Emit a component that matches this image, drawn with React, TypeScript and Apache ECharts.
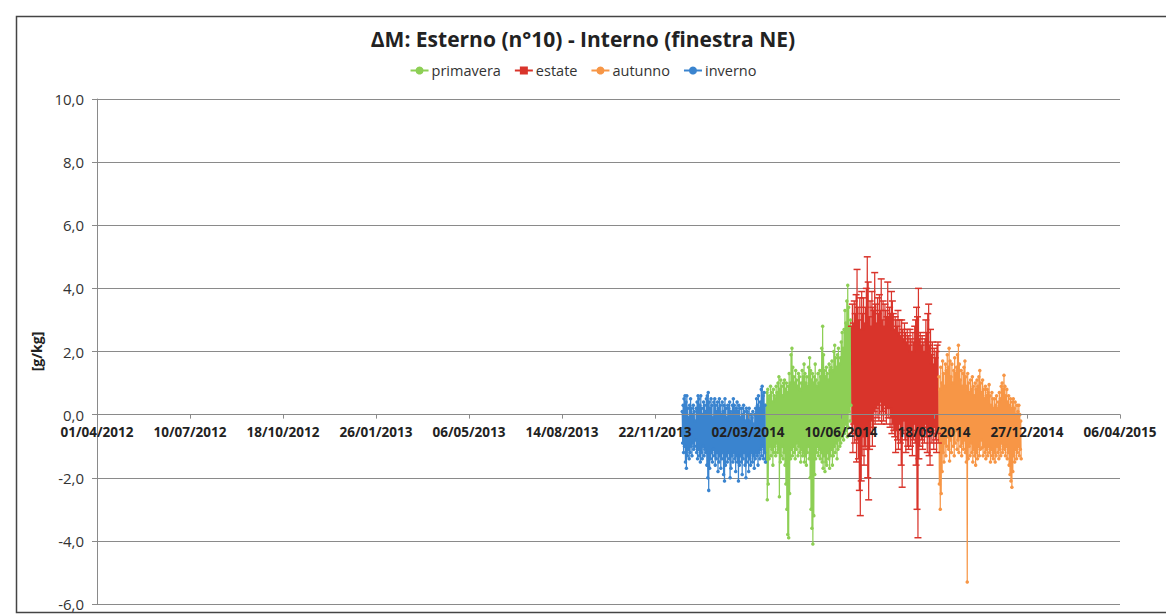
import React, { useEffect, useRef } from "react";
import * as echarts from "echarts";

const TITLE = "ΔM: Esterno (n°10) - Interno (finestra NE)";
const Y_NAME = "[g/kg]";
const BASE_DATE = "01/04/2012";
const X_MIN_DAYS = 0;
const X_MAX_DAYS = 1100;
const X_STEP_DAYS = 100;
const Y_MIN = -6;
const Y_MAX = 10;
const Y_STEP = 2;

const seasonNames = ["primavera", "estate", "autunno", "inverno"];
const seasonColors = ["#8DCF55", "#D9342B", "#F79646", "#3A84CF"];
const seasonStarts = ["21/03/2014", "21/06/2014", "23/09/2014", "21/12/2013"];

// daily maxima / minima [g/kg]
const invernoHigh = [
  0.1, 0.3, 0.5, 0.6, 0.4, 0.6, 0.2, -0.1, 0.3, 0.5,
  0.2, 0.0, 0.3, 0.1, -0.2, 0.2, 0.4, 0.6, 0.5, 0.3,
  0.6, 0.2, 0.0, 0.4, 0.3, 0.1, 0.5, 0.6, 0.7, 0.4,
  0.2, 0.5, 0.3, -0.1, 0.4, 0.5, 0.3, 0.1, 0.4, 0.2,
  0.5, 0.3, 0.0, 0.4, 0.1, 0.3, 0.5, 0.2, -0.1, 0.3,
  0.2, 0.4, 0.1, 0.0, 0.3, 0.5, 0.3, 0.1, 0.2, 0.4,
  0.1, 0.3, 0.2, -0.1, 0.2, 0.0, 0.3, 0.1, -0.2, 0.2,
  0.1, 0.0, 0.2, -0.2, 0.0, -0.1, 0.1, -0.3, 0.0, 0.2,
  0.5, 0.3, 0.6, 0.2, 0.4, 0.8, 0.9, 0.6, 0.7, 0.3,
];
const invernoLow = [
  -0.9, -1.2, -1.0, -1.5, -1.7, -1.3, -1.1, -1.4, -1.2, -1.0,
  -1.3, -0.9, -1.1, -1.0, -0.8, -1.2, -1.4, -1.1, -1.3, -1.5,
  -1.2, -1.4, -1.0, -1.3, -1.1, -1.2, -1.6, -2.0, -2.4, -1.7,
  -1.4, -1.2, -1.5, -1.1, -1.3, -1.6, -1.4, -1.2, -1.8, -1.5,
  -1.3, -1.7, -1.4, -1.2, -1.9, -2.1, -1.6, -1.3, -1.5, -1.2,
  -1.4, -2.0, -1.7, -1.3, -1.5, -1.2, -1.4, -1.8, -1.3, -1.5,
  -2.1, -1.6, -1.3, -1.5, -1.9, -1.4, -1.2, -1.6, -2.0, -1.5,
  -1.3, -1.8, -1.4, -1.6, -1.2, -1.5, -1.3, -1.7, -1.4, -1.2,
  -1.3, -1.6, -1.2, -1.4, -1.1, -1.3, -1.0, -1.4, -1.2, -1.5,
];
const primaveraHigh = [
  0.3, 0.7, 0.8, 0.5, 0.6, 0.9, 0.7, 0.4, 0.8, 0.6,
  0.5, 0.9, 0.7, 1.0, 1.2, 0.8, 1.1, 0.9, 0.6, 1.0,
  1.1, 0.8, 1.0, 0.7, 0.9, 1.3, 1.0, 1.9, 2.1, 1.5,
  1.2, 1.0, 1.4, 1.1, 0.9, 1.3, 1.2, 0.8, 1.0, 1.4,
  1.2, 1.6, 1.3, 1.0, 1.2, 0.9, 1.5, 1.8, 1.4, 1.1,
  1.3, 1.0, 1.2, 1.6, 1.1, 0.9, 1.3, 1.0, 1.4, 1.2,
  2.1, 2.8, 1.9, 1.4, 1.2, 1.5, 1.3, 1.1, 1.6, 1.4,
  1.5, 1.7, 1.4, 2.0, 2.2, 1.8, 1.5, 1.9, 2.1, 1.6,
  1.8, 2.3, 2.6, 2.1, 2.7, 3.3, 2.9, 3.6, 4.1, 3.4, 2.8, 3.0,
];
const primaveraLow = [
  -1.5, -2.7, -2.2, -1.4, -1.0, -1.3, -1.1, -1.6, -1.2, -1.0,
  -1.3, -0.9, -1.2, -1.1, -2.6, -1.5, -1.3, -1.0, -1.4, -1.2,
  -1.6, -2.2, -3.0, -3.8, -3.9, -2.5, -1.4, -1.1, -1.3, -1.0,
  -1.2, -1.4, -1.1, -0.9, -1.3, -1.0, -1.2, -1.5, -1.1, -1.3,
  -1.2, -1.5, -1.3, -1.6, -1.2, -1.0, -1.4, -2.0, -3.0, -3.6,
  -4.1, -3.2, -1.9, -1.4, -1.2, -1.0, -1.3, -1.1, -1.4, -1.2,
  -1.5, -1.7, -1.3, -1.8, -1.5, -1.6, -1.2, -1.4, -1.7, -1.3,
  -1.1, -1.6, -1.3, -1.0, -1.2, -0.9, -1.4, -1.1, -0.8, -1.0,
  -0.9, -0.7, -0.5, -0.8, -0.6, -0.3, -0.5, -0.7, -0.4, 0.1, -0.2, 0.3,
];
const estateHigh = [
  2.8, 3.5, 2.9, 3.6, 3.2, 3.8, 4.6, 3.4, 3.0, 3.7,
  2.7, 3.9, 3.2, 3.7, 2.9, 3.4, 4.0, 5.0, 4.2, 3.1,
  3.6, 2.8, 3.9, 3.4, 3.3, 4.5, 3.5, 2.9, 3.7, 3.2,
  3.8, 3.3, 4.3, 3.0, 3.6, 2.8, 3.5, 3.3, 3.1, 4.2,
  3.1, 3.4, 3.2, 3.9, 3.6, 3.2, 2.7, 3.1, 3.0, 2.8,
  3.3, 2.6, 3.0, 2.5, 3.0, 2.7, 2.4, 2.9, 2.6, 2.3,
  2.7, 2.5, 2.2, 2.7, 2.4, 2.0, 2.6, 2.3, 2.8, 3.0,
  3.4, 3.1, 4.0, 2.4, 2.6, 2.2, 2.5, 2.3, 2.0, 2.4,
  3.0, 2.6, 3.2, 3.5, 2.2, 2.7, 1.9, 2.3, 1.6, 2.1,
  1.8, 2.0, 2.2, 2.3,
];
const estateLow = [
  -0.6, -1.2, -0.3, -0.9, -0.5, -1.5, -0.8, -1.4, -2.4, -3.2,
  -2.1, -1.3, -0.7, -1.6, -1.0, -1.1, -0.4, -2.0, -2.7, -1.1,
  -0.6, -0.2, -1.0, -0.4, 0.1, -0.3, 0.2, -0.1, 0.3, -0.2,
  0.0, 0.4, -0.3, 0.1, -0.2, 0.3, 0.0, -0.3, 0.2, -0.1,
  0.2, -0.4, -0.1, -0.6, -0.3, -0.5, -0.7, -1.2, -0.5, -0.8,
  -1.1, -0.3, -0.9, -1.6, -2.3, -0.6, -0.2, -0.8, -1.2, -0.5,
  -1.0, -1.1, -0.7, -1.0, -0.5, -1.3, -0.8, -0.3, -0.9, -1.6,
  -3.0, -3.9, -1.4, -1.0, -0.4, -0.8, -1.1, -0.5, -0.9, -0.3,
  -0.7, -1.2, -0.4, -1.3, -1.6, -0.5, -0.9, -0.6, -1.1, -0.4,
  -0.8, -1.2, -0.6, -0.9,
];
const autunnoHigh = [
  1.2, 0.8, 1.5, 1.0, 1.7, 1.3, 0.9, 1.6, 1.4, 1.9,
  1.5, 2.1, 1.7, 1.2, 1.6, 1.0, 1.4, 1.8, 1.3, 1.5,
  1.9, 2.2, 1.6, 1.1, 1.4, 0.9, 1.3, 1.5, 1.7, 1.2,
  0.9, 1.3, 1.0, 0.7, 1.1, 0.8, 1.2, 0.9, 0.6, 1.0,
  0.8, 1.1, 0.9, 1.2, 1.4, 1.0, 0.7, 1.1, 0.8, 0.5,
  0.9, 0.6, 0.8, 0.7, 0.95, 0.6, 0.3, 0.7, 0.5, 0.2,
  0.5, 0.3, 0.6, 0.2, 0.4, 0.7, 0.5, 0.9, 1.0, 0.8,
  1.25, 0.9, 0.6, 0.8, 0.4, 0.6, 0.3, 0.5, 0.2, 0.4,
  0.5, 0.2, 0.4, 0.0, 0.3, 0.1, 0.3, 0.0, -0.2,
];
const autunnoLow = [
  -2.2, -3.0, -2.5, -1.8, -1.2, -1.5, -0.9, -1.3, -1.0, -0.7,
  -1.1, -1.47, -0.8, -1.2, -0.6, -1.0, -1.3, -0.9, -0.5, -1.1,
  -0.8, -1.2, -0.7, -1.0, -1.3, -0.9, -1.1, -0.8, -1.2, -1.5,
  -5.3, -1.4, -1.0, -1.3, -0.9, -1.2, -1.5, -1.1, -1.3, -1.6,
  -1.2, -1.4, -1.0, -1.3, -1.1, -0.8, -1.05, -1.3, -1.0, -1.2,
  -1.4, -1.1, -1.3, -1.0, -1.2, -1.5, -1.1, -1.3, -1.4, -1.2,
  -1.5, -1.3, -1.0, -1.2, -1.4, -1.1, -1.3, -0.9, -1.2, -1.0,
  -1.1, -1.3, -1.0, -1.4, -1.2, -1.6, -1.9, -2.1, -2.3, -1.8,
  -1.3, -1.5, -1.1, -1.4, -1.2, -1.0, -1.3, -1.1, -1.4,
];

const seasonHighs = [primaveraHigh, estateHigh, autunnoHigh, invernoHigh];
const seasonLows = [primaveraLow, estateLow, autunnoLow, invernoLow];

const DAY_MS = 86400000;
function toUTC(s: string): number {
  const [d, m, y] = s.split("/").map(Number);
  return Date.UTC(y, m - 1, d);
}
const BASE_MS = toUTC(BASE_DATE);
function dayOf(s: string): number {
  return Math.round((toUTC(s) - BASE_MS) / DAY_MS);
}
function fmtDay(v: number): string {
  const dt = new Date(BASE_MS + Math.round(v) * DAY_MS);
  const dd = String(dt.getUTCDate()).padStart(2, "0");
  const mm = String(dt.getUTCMonth() + 1).padStart(2, "0");
  return `${dd}/${mm}/${dt.getUTCFullYear()}`;
}

const FONT = "'Open Sans', 'Noto Sans', sans-serif";
const W = 1166;
const H = 614;
const GRID_TOP = 99;
const GRID_BOTTOM = 10;
const PLOT_H = H - GRID_TOP - GRID_BOTTOM;
// distance from the bottom of the plot to the value 0 line
const ZERO_OFFSET = (PLOT_H * (0 - Y_MIN)) / (Y_MAX - Y_MIN);

export default function App() {
  const ref = useRef<HTMLDivElement>(null);
  useEffect(() => {
    if (!ref.current) return;
    const chart = echarts.init(ref.current, undefined, { renderer: "svg" });
    const series = seasonNames.map((name, k) => {
      const s0 = dayOf(seasonStarts[k]);
      const hi = seasonHighs[k];
      const lo = seasonLows[k];
      const data: number[][] = [];
      hi.forEach((h, i) => {
        data.push([s0 + i + 0.25, h]);
        data.push([s0 + i + 0.75, lo[i]]);
      });
      const isEstate = name === "estate";
      return {
        name,
        type: "line",
        data,
        color: seasonColors[k],
        showSymbol: true,
        symbol: isEstate ? "rect" : "circle",
        symbolSize: isEstate ? [7, 1.5] : 3.5,
        lineStyle: { width: 1.2, color: seasonColors[k] },
        itemStyle: { color: seasonColors[k] },
        z: 2,
      };
    });
    chart.setOption({
      animation: false,
      backgroundColor: "#ffffff",
      textStyle: { fontFamily: FONT },
      title: {
        text: TITLE,
        left: "center",
        top: 23,
        textStyle: { fontFamily: FONT, fontSize: 21, fontWeight: "bold", color: "#222" },
      },
      legend: {
        top: 58,
        left: "center",
        data: seasonNames,
        itemWidth: 18,
        itemHeight: 10,
        itemGap: 13,
        textStyle: { fontFamily: FONT, fontSize: 14.5, color: "#333", padding: [0, 0, 0, -2] },
      },
      grid: { left: 97, right: 46, top: GRID_TOP, bottom: GRID_BOTTOM, containLabel: false },
      xAxis: {
        type: "value",
        z: 10,
        min: X_MIN_DAYS,
        max: X_MAX_DAYS,
        interval: X_STEP_DAYS,
        offset: -ZERO_OFFSET,
        axisLine: { onZero: false, lineStyle: { color: "#8a8a8a", width: 1 } },
        axisTick: { show: true, length: 4, inside: false, lineStyle: { color: "#8a8a8a" } },
        splitLine: { show: false },
        axisLabel: {
          formatter: (v: number) => fmtDay(v),
          fontFamily: FONT,
          fontSize: 13.5,
          fontWeight: "bold",
          color: "#222",
          margin: 10,
          showMaxLabel: true,
          showMinLabel: true,
        },
      },
      yAxis: {
        type: "value",
        min: Y_MIN,
        max: Y_MAX,
        interval: Y_STEP,
        name: Y_NAME,
        nameLocation: "middle",
        nameRotate: 90,
        nameGap: 52,
        nameTextStyle: { fontFamily: FONT, fontSize: 14, fontWeight: "bold", color: "#222" },
        axisLine: { show: true, lineStyle: { color: "#8a8a8a", width: 1 } },
        axisTick: { show: true, length: 5, lineStyle: { color: "#8a8a8a" } },
        splitLine: { show: true, lineStyle: { color: "#8a8a8a", width: 1 } },
        axisLabel: {
          formatter: (v: number) => v.toFixed(1).replace(".", ","),
          fontFamily: FONT,
          fontSize: 15,
          color: "#333",
          margin: 13,
        },
      },
      graphic: [
        {
          type: "rect",
          left: 14,
          top: 14,
          shape: { width: 1170, height: 596 },
          style: { fill: "none", stroke: "#444", lineWidth: 1.5 },
          silent: true,
        },
      ],
      series,
    });
    return () => chart.dispose();
  }, []);
  return (
    <div
      ref={ref}
      style={{ position: "fixed", left: 0, top: 0, width: W, height: H }}
    />
  );
}
